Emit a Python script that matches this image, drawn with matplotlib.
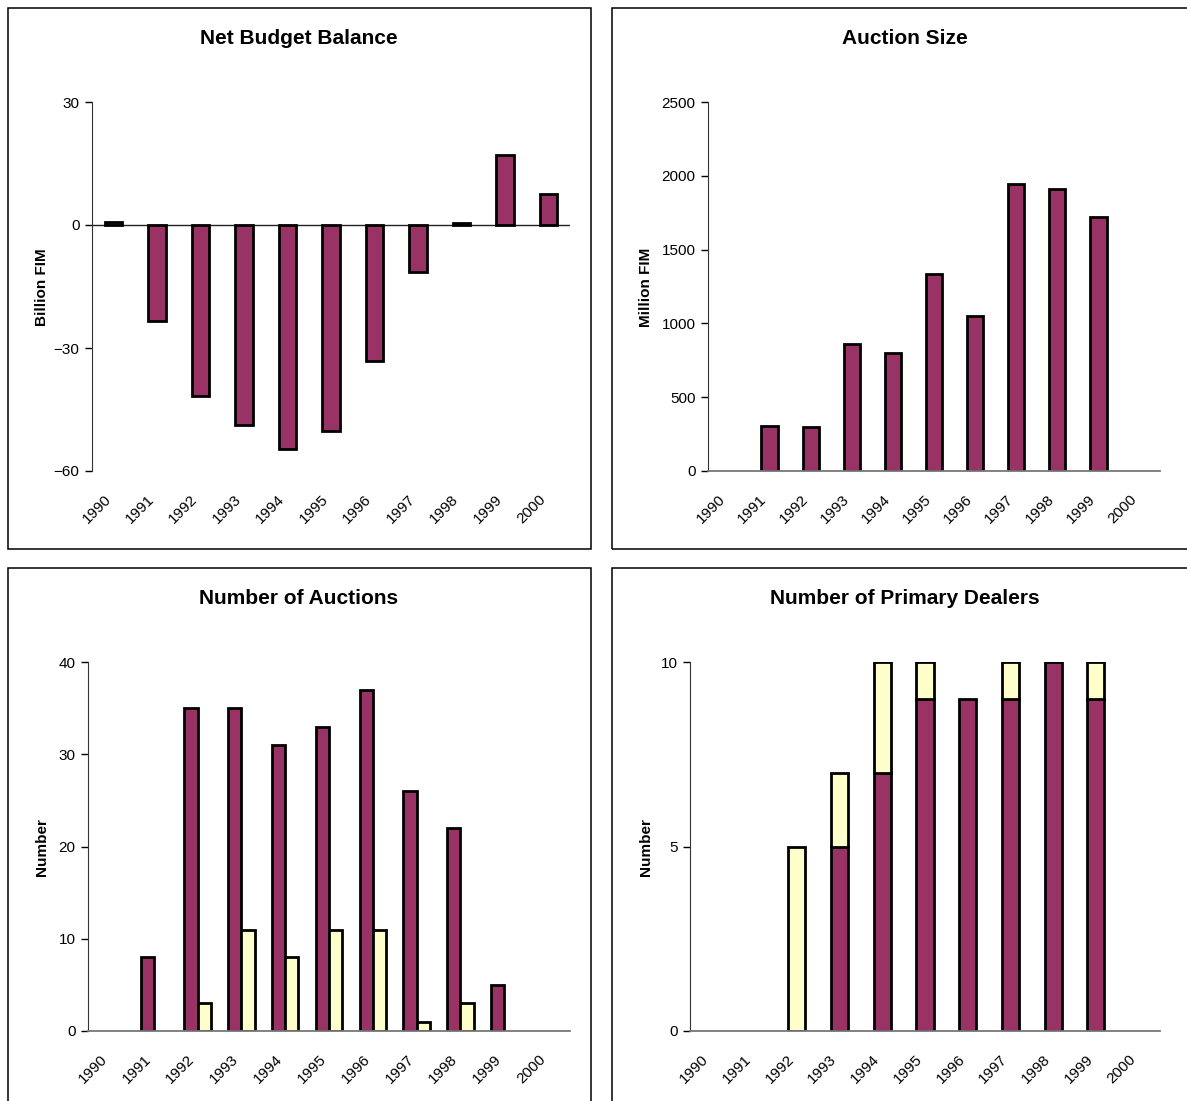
import matplotlib.pyplot as plt
import matplotlib.transforms as mtransforms
from matplotlib.patches import Rectangle

plt.rcParams['font.family'] = ['Liberation Sans', 'DejaVu Sans']

years = ['1990', '1991', '1992', '1993', '1994', '1995', '1996', '1997', '1998', '1999', '2000']

# net budget balance, billion FIM
budget_balance = [0.8, -23.5, -41.6, -48.9, -54.6, -50.3, -33.2, -11.4, 0.4, 17.0, 7.6]

# auction size, million FIM (no auctions in 1990 / 2000)
auction_size = [0, 305, 300, 861, 800, 1338, 1049, 1944, 1912, 1722, 0]

# number of auctions, two series
auctions_a = [0, 8, 35, 35, 31, 33, 37, 26, 22, 5, 0]
auctions_b = [0, 0, 3, 11, 8, 11, 11, 1, 3, 0, 0]

# number of primary dealers, stacked
dealers_a = [0, 0, 0, 5, 7, 9, 9, 9, 10, 9, 0]
dealers_b = [0, 0, 5, 2, 3, 1, 0, 1, 0, 1, 0]

PURPLE = '#993366'
YELLOW = '#FFFFCC'
W, H = 1187, 1101
FS = 11

fig = plt.figure(figsize=(W / 100, H / 100), dpi=100)
# excel puts the rotated year labels a bit left of the slot centre
shift = mtransforms.ScaledTranslation(-0.10, 0, fig.dpi_scale_trans)


def px_axes(x0, x1, y0, y1):
    return fig.add_axes([x0 / W, 1 - y1 / H, (x1 - x0) / W, (y1 - y0) / H])


def style(ax, ymin, ymax, yticks, zero_line=False):
    xs = range(len(years))
    ax.set_xlim(-0.5, len(years) - 0.5)
    ax.set_ylim(ymin, ymax)
    ax.set_yticks(yticks)
    ax.set_xticks(list(xs))
    ax.set_xticklabels(years, rotation=45, ha='right', va='top', rotation_mode='anchor')
    ax.tick_params(axis='x', length=0, pad=15, labelsize=FS)
    ax.tick_params(axis='y', length=5, width=1, pad=4, labelsize=FS, direction='out')
    for lab in ax.get_xticklabels():
        lab.set_transform(lab.get_transform() + shift)
    for s in ['top', 'right']:
        ax.spines[s].set_visible(False)
    ax.spines['left'].set_color('#333333')
    if zero_line:
        ax.spines['bottom'].set_visible(False)
        ax.axhline(0, color='#222222', lw=1, zorder=1)
    else:
        ax.spines['bottom'].set_color('#777777')
        ax.spines['bottom'].set_linewidth(1.3)


def panel(x0, y0, x1, y1, title, ylabel, tx, lx):
    fig.add_artist(Rectangle((x0 / W, 1 - y1 / H), (x1 - x0) / W, (y1 - y0) / H,
                             transform=fig.transFigure, fill=False, ec='black', lw=1.1))
    fig.text(tx / W, 1 - (y0 + 31) / H, title, ha='center', va='center',
             fontsize=15, fontweight='bold')
    fig.text(lx / W, 1 - ((y0 + 95 + y0 + 464) / 2) / H, ylabel, ha='center', va='center',
             rotation=90, fontsize=FS, fontweight='bold')


bar_kw = dict(edgecolor='black', linewidth=2.0, zorder=2)
x = list(range(len(years)))

# Net Budget Balance
ax1 = px_axes(92, 570, 102, 471)
ax1.bar(x, budget_balance, width=0.4, color=PURPLE, **bar_kw)
style(ax1, -60, 30, [-60, -30, 0, 30], zero_line=True)
panel(7.5, 7.5, 590.5, 548.5, 'Net Budget Balance', 'Billion FIM', 299, 42)

# Auction Size
ax2 = px_axes(708, 1160, 102, 471)
sx = [i for i, v in enumerate(auction_size) if v > 0]
ax2.bar(sx, [auction_size[i] for i in sx], width=0.4, color=PURPLE, **bar_kw)
style(ax2, 0, 2500, [0, 500, 1000, 1500, 2000, 2500])
panel(611.5, 7.5, 1200, 548.5, 'Auction Size', 'Million FIM', 905, 646)

# Number of Auctions
ax3 = px_axes(88, 570, 662, 1031)
ax3.bar([i - 0.15 for i in x if auctions_a[i] > 0], [v for v in auctions_a if v > 0],
        width=0.3, color=PURPLE, **bar_kw)
ax3.bar([i + 0.15 for i in x if auctions_b[i] > 0], [v for v in auctions_b if v > 0],
        width=0.3, color=YELLOW, **bar_kw)
style(ax3, 0, 40, [0, 10, 20, 30, 40])
panel(7.5, 567.5, 590.5, 1120, 'Number of Auctions', 'Number', 299, 42)

# Number of Primary Dealers
ax4 = px_axes(690, 1160, 662, 1031)
ia = [i for i in x if dealers_a[i] > 0]
ax4.bar(ia, [dealers_a[i] for i in ia], width=0.4, color=PURPLE, **bar_kw)
ib = [i for i in x if dealers_b[i] > 0]
ax4.bar(ib, [dealers_b[i] for i in ib], bottom=[dealers_a[i] for i in ib],
        width=0.4, color=YELLOW, **bar_kw)
style(ax4, 0, 10, [0, 5, 10])
panel(611.5, 567.5, 1200, 1120, 'Number of Primary Dealers', 'Number', 905, 646)

for ax in (ax1, ax2, ax3, ax4):
    ax.patch.set_visible(False)

fig.savefig('out.png', dpi=100)
